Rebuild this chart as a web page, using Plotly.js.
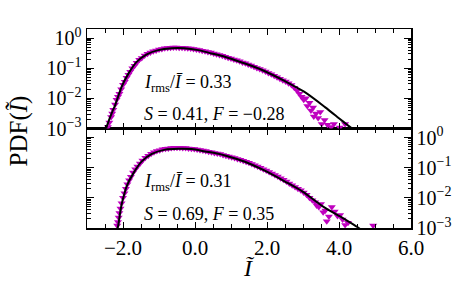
<!DOCTYPE html>
<html>
<head>
<meta charset="utf-8">
<script src="https://cdn.plot.ly/plotly-3.0.1.min.js"></script>
<style>html,body{margin:0;padding:0;background:#fff;}#chart{width:462px;height:286px;}</style>
</head>
<body>
<div id="chart"></div>
<script>
// ---- Top panel data ----
const topMarkX = [-2.42,-2.38,-2.33,-2.30,-2.27,-2.22,-2.18,-2.14,-2.10,-2.05,-2.00,-1.95,-1.90,-1.85,-1.80,-1.74,-1.68,-1.62,-1.55,-1.48,-1.40,-1.32,-1.24,-1.16,-1.08,-1.00,-0.92,-0.84,-0.76,-0.68,-0.60,-0.52,-0.44,-0.36,-0.28,-0.20,-0.12,-0.04,0.04,0.12,0.20,0.28,0.36,0.44,0.52,0.60,0.68,0.76,0.84,0.92,1.00,1.08,1.16,1.24,1.32,1.40,1.48,1.56,1.64,1.72,1.80,1.88,1.96,2.04,2.12,2.20,2.28,2.36,2.44,2.52,2.60,2.68,2.76,2.84,2.90,2.96,3.02,3.08,3.12,3.18,3.22,3.28,3.30,3.36,3.42,3.48,3.52,3.60,3.68,3.78,3.86,4.02,4.17];
const topMarkY = [0.00112,0.00158,0.0024,0.00316,0.00417,0.0063,0.0089,0.0112,0.0141,0.020,0.0282,0.0355,0.0479,0.0603,0.0759,0.100,0.120,0.151,0.191,0.219,0.263,0.302,0.331,0.363,0.389,0.417,0.437,0.457,0.468,0.479,0.490,0.490,0.479,0.479,0.468,0.457,0.447,0.437,0.417,0.398,0.380,0.363,0.347,0.331,0.309,0.288,0.275,0.257,0.240,0.224,0.209,0.195,0.182,0.170,0.155,0.145,0.132,0.123,0.112,0.102,0.0933,0.0851,0.0776,0.0692,0.0631,0.0562,0.0501,0.0447,0.0398,0.0363,0.0316,0.0275,0.0224,0.0178,0.0141,0.0112,0.0089,0.0100,0.00562,0.00708,0.00398,0.00501,0.00251,0.00316,0.00224,0.00355,0.00141,0.00191,0.00132,0.00112,0.00141,0.00107,0.00141];
const topLineX = [-2.48,-2.45,-2.30,-2.22,-2.10,-2.04,-1.85,-1.62,-1.34,-1.02,-0.65,-0.30,0.09,0.46,0.83,1.20,1.57,1.94,2.50,3.03,3.61,4.07,4.36,4.45];
const topLineY = [0.00089,0.00117,0.00355,0.0059,0.0151,0.024,0.066,0.162,0.288,0.398,0.457,0.457,0.398,0.309,0.240,0.170,0.120,0.0794,0.0372,0.0166,0.00513,0.00186,0.001,0.00079];

// ---- Bottom panel data ----
const botMarkX = [-2.16,-2.14,-2.12,-2.10,-2.07,-2.04,-2.00,-1.96,-1.92,-1.88,-1.83,-1.78,-1.72,-1.66,-1.60,-1.53,-1.46,-1.38,-1.30,-1.22,-1.14,-1.06,-0.98,-0.90,-0.82,-0.74,-0.66,-0.58,-0.50,-0.42,-0.34,-0.26,-0.18,-0.10,-0.02,0.06,0.14,0.22,0.30,0.38,0.46,0.54,0.62,0.70,0.78,0.86,0.94,1.02,1.10,1.18,1.26,1.34,1.42,1.50,1.58,1.66,1.74,1.82,1.90,1.98,2.06,2.14,2.22,2.30,2.38,2.46,2.54,2.62,2.70,2.78,2.86,2.94,3.02,3.10,3.18,3.26,3.34,3.38,3.44,3.50,3.56,3.62,3.66,3.72,3.80,3.88,3.96,4.03,4.10,4.17,4.25,4.95];
const botMarkY = [0.0012,0.00158,0.00224,0.00316,0.00447,0.0066,0.0100,0.0141,0.0200,0.0282,0.038,0.0501,0.0692,0.0891,0.110,0.138,0.174,0.214,0.251,0.288,0.324,0.355,0.380,0.407,0.427,0.437,0.447,0.457,0.457,0.457,0.447,0.447,0.437,0.427,0.417,0.398,0.389,0.372,0.355,0.339,0.324,0.309,0.295,0.282,0.263,0.251,0.234,0.224,0.209,0.195,0.182,0.170,0.158,0.145,0.132,0.120,0.110,0.100,0.0891,0.0813,0.0724,0.0646,0.0575,0.0513,0.0447,0.0398,0.0347,0.0302,0.0263,0.0229,0.0200,0.0178,0.0151,0.0126,0.0100,0.0083,0.00708,0.00562,0.00501,0.00631,0.00331,0.0038,0.00166,0.0024,0.00501,0.00355,0.00251,0.00269,0.00191,0.00126,0.00148,0.0012];
const botLineX = [-2.16,-2.13,-2.08,-2.04,-1.97,-1.90,-1.71,-1.48,-1.20,-0.83,-0.46,-0.09,0.28,0.65,1.02,1.39,1.94,2.50,3.00,3.56,4.12,4.54,4.60];
const botLineY = [0.00089,0.00126,0.00316,0.0059,0.0126,0.024,0.066,0.162,0.288,0.398,0.427,0.417,0.347,0.288,0.219,0.158,0.0794,0.0347,0.0158,0.00513,0.00209,0.00102,0.00089];

// ---- Tick labels & annotations ----
const xTickVals = [-2, 0, 2, 4, 6];
const xTickText = ['−2.0', '0.0', '2.0', '4.0', '6.0'];
const yTickVals = [1, 0.1, 0.01, 0.001];
const yTickText = ['10<sup>0</sup>', '10<sup>−1</sup>', '10<sup>−2</sup>', '10<sup>−3</sup>'];
const topLabels = ['<i>I</i><sub>rms</sub>/<i>Ī</i> = 0.33', '<i>S</i> = 0.41, <i>F</i> = −0.28'];
const botLabels = ['<i>I</i><sub>rms</sub>/<i>Ī</i> = 0.31', '<i>S</i> = 0.69, <i>F</i> = 0.35'];
const yTitle = 'PDF(<i>Ĩ</i>)';
const xTitle = '<i>Ĩ</i>';

const FONT = 'Liberation Serif, DejaVu Serif, serif';
const MAG = '#bf00bf';

const markStyle = {symbol: 'triangle-down', size: 7, color: MAG, line: {width: 0}};
const lineStyle = {color: 'black', width: 2, shape: 'spline', smoothing: 0.8};

const traces = [
  {x: topMarkX, y: topMarkY, xaxis: 'x2', yaxis: 'y2', mode: 'markers', type: 'scatter', marker: markStyle, cliponaxis: true},
  {x: topLineX, y: topLineY, xaxis: 'x2', yaxis: 'y2', mode: 'lines', type: 'scatter', line: lineStyle},
  {x: botMarkX, y: botMarkY, xaxis: 'x', yaxis: 'y', mode: 'markers', type: 'scatter', marker: markStyle, cliponaxis: true},
  {x: botLineX, y: botLineY, xaxis: 'x', yaxis: 'y', mode: 'lines', type: 'scatter', line: lineStyle}
];

const xBase = {
  range: [-3, 6], tickmode: 'array', tickvals: xTickVals, ticktext: xTickText,
  ticks: 'inside', ticklen: 6, tickwidth: 1, tickcolor: 'black',
  showline: true, linecolor: 'black', linewidth: 1.5, mirror: 'allticks',
  showgrid: false, zeroline: false,
  minor: {dtick: 0.5, ticks: 'inside', ticklen: 4, tickwidth: 1, tickcolor: 'black', showgrid: false},
  tickfont: {family: FONT, size: 21, color: 'black'}
};
const yBase = {
  type: 'log', range: [-3, 0.3], tickmode: 'array', tickvals: yTickVals, ticktext: yTickText,
  ticks: 'inside', ticklen: 7, tickwidth: 1, tickcolor: 'black',
  showline: true, linecolor: 'black', linewidth: 1.5, mirror: 'allticks',
  showgrid: false, zeroline: false,
  minor: {dtick: 'D1', ticks: 'inside', ticklen: 3.5, tickwidth: 1, tickcolor: 'black', showgrid: false},
  tickfont: {family: FONT, size: 20, color: 'black'}
};

const layout = {
  width: 462, height: 286,
  margin: {l: 87, r: 51, t: 29, b: 58, pad: 0},
  paper_bgcolor: 'white', plot_bgcolor: 'white',
  showlegend: false,
  font: {family: FONT, color: 'black'},
  xaxis: Object.assign({}, xBase, {anchor: 'y', domain: [0, 1]}),
  xaxis2: Object.assign({}, xBase, {anchor: 'y2', domain: [0, 1], matches: 'x', showticklabels: false}),
  yaxis: Object.assign({}, yBase, {anchor: 'x', domain: [0, 0.5], side: 'right'}),
  yaxis2: Object.assign({}, yBase, {anchor: 'x2', domain: [0.5, 1], side: 'left'}),
  annotations: [
    {xref: 'x2', yref: 'y2', x: -1.47, y: -1.5, xanchor: 'left', yanchor: 'middle', text: topLabels[0], showarrow: false, font: {family: FONT, size: 18}},
    {xref: 'x2', yref: 'y2', x: -1.47, y: -2.53, xanchor: 'left', yanchor: 'middle', text: topLabels[1], showarrow: false, font: {family: FONT, size: 18}},
    {xref: 'x', yref: 'y', x: -1.47, y: -1.5, xanchor: 'left', yanchor: 'middle', text: botLabels[0], showarrow: false, font: {family: FONT, size: 18}},
    {xref: 'x', yref: 'y', x: -1.47, y: -2.53, xanchor: 'left', yanchor: 'middle', text: botLabels[1], showarrow: false, font: {family: FONT, size: 18}},
    {xref: 'paper', yref: 'paper', x: -0.207, y: 0.49, xanchor: 'center', yanchor: 'middle', textangle: -90, text: yTitle, showarrow: false, font: {family: FONT, size: 25}},
    {xref: 'paper', yref: 'paper', x: 0.5, y: -0.2, xanchor: 'center', yanchor: 'middle', text: xTitle, showarrow: false, font: {family: FONT, size: 24}}
  ]
};

Plotly.newPlot('chart', traces, layout, {displayModeBar: false, staticPlot: true});
</script>
</body>
</html>
